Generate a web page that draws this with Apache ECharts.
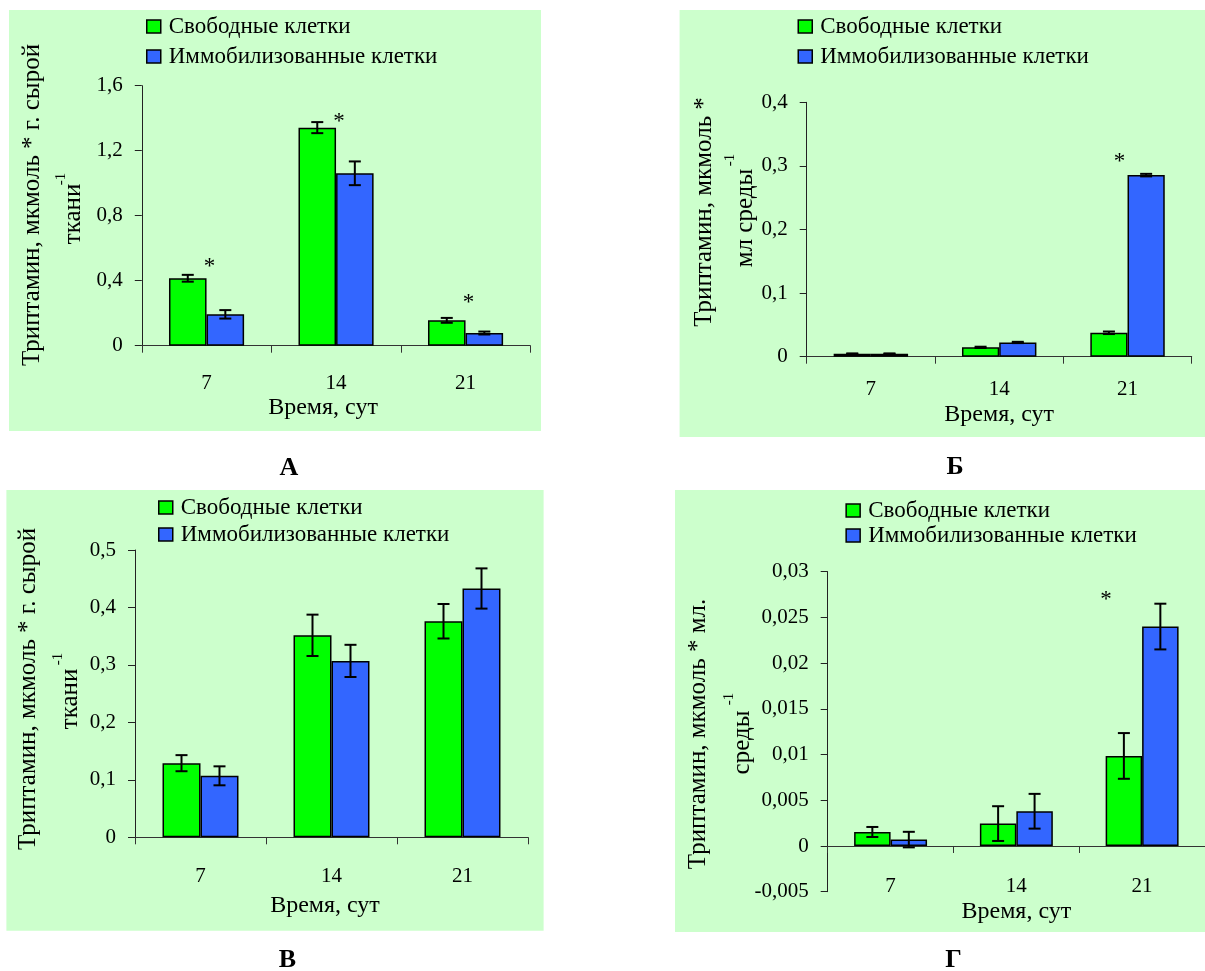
<!DOCTYPE html>
<html><head><meta charset="utf-8">
<script src="https://cdn.jsdelivr.net/npm/echarts@6/dist/echarts.min.js"></script>
<style>html,body{margin:0;padding:0;background:#fff}#c{width:1205px;height:971px}</style>
</head><body><div id="c"></div>
<script>
// ---------- data ----------
const categories = ['7', '14', '21'];
const seriesNames = ['Свободные клетки', 'Иммобилизованные клетки'];

// Panel А
const freeA = [0.415, 1.342, 0.156];
const freeErrA = [0.021, 0.034, 0.015];
const immA = [0.193, 1.061, 0.078];
const immErrA = [0.026, 0.073, 0.009];
const starA = [0.511, 1.403, 0.287];
const ticksA = ['0', '0,4', '0,8', '1,2', '1,6'];

// Panel Б
const freeB = [0.0047, 0.0147, 0.0376];
const freeErrB = [0.0005, 0.001, 0.002];
const immB = [0.0047, 0.0224, 0.2855];
const immErrB = [0.0005, 0.001, 0.002];
const starB = [null, null, 0.312];
const ticksB = ['0', '0,1', '0,2', '0,3', '0,4'];

// Panel В
const freeV = [0.129, 0.3515, 0.376];
const freeErrV = [0.014, 0.036, 0.030];
const immV = [0.107, 0.307, 0.433];
const immErrV = [0.0165, 0.028, 0.035];
const starV = [null, null, null];
const ticksV = ['0', '0,1', '0,2', '0,3', '0,4', '0,5'];

// Panel Г
const freeG = [0.00153, 0.00245, 0.00985];
const freeErrG = [0.00055, 0.0019, 0.0025];
const immG = [0.0007, 0.0038, 0.024];
const immErrG = [0.00085, 0.0019, 0.0025];
const starG = [null, null, 0.0273];
const ticksG = ['-0,005', '0', '0,005', '0,01', '0,015', '0,02', '0,025', '0,03'];

const xName = 'Время, сут';
const yLine1 = ['Триптамин, мкмоль * г. сырой', 'Триптамин, мкмоль *', 'Триптамин, мкмоль * г. сырой', 'Триптамин, мкмоль * мл.'];
const yLine2 = ['ткани', 'мл среды', 'ткани', 'среды'];
const panelTitles = ['А', 'Б', 'В', 'Г'];

// ---------- styling / layout ----------
const FONT = '"Liberation Serif", "Times New Roman", serif';
const GREEN = '#00FF00', BLUE = '#3366FF', BG = '#CCFFCC';
const GAP = 0.42;

const panels = [
  { free: freeA, freeErr: freeErrA, imm: immA, immErr: immErrA, star: starA, ticks: ticksA,
    min: 0, max: 1.6, interval: 0.4,
    grid: { left: 141.8, top: 85.7, width: 388.5, height: 260 },
    legend: { left: 146, top: 15, gap: 7 }, labelMargin: 27, nameGap: 50, namePad: [0, 26, 0, 0], starDx: 3,
    bg: [9, 10, 532, 421],
    y1: [32, 205], y2: [73, 214], sup: [61, 179], title: [289, 468] },
  { free: freeB, freeErr: freeErrB, imm: immB, immErr: immErrB, star: starB, ticks: ticksB,
    min: 0, max: 0.4, interval: 0.1,
    grid: { left: 806.7, top: 102.3, width: 385, height: 254.4 },
    legend: { left: 797.5, top: 15, gap: 7 }, labelMargin: 22, nameGap: 46, namePad: [0, 0, 0, 0], starDx: -8,
    bg: [679.6, 10, 530, 427],
    y1: [704, 212], y2: [745, 218], sup: [730, 160], title: [955, 467] },
  { free: freeV, freeErr: freeErrV, imm: immV, immErr: immErrV, star: starV, ticks: ticksV,
    min: 0, max: 0.5, interval: 0.1,
    grid: { left: 135, top: 550, width: 393, height: 287.3 },
    legend: { left: 158, top: 496, gap: 4 }, labelMargin: 29, nameGap: 56, namePad: [0, 13, 0, 0], starDx: 0,
    bg: [6.4, 490, 537.2, 440.7],
    y1: [28.6, 689], y2: [70.5, 699], sup: [58, 659], title: [287.5, 960] },
  { free: freeG, freeErr: freeErrG, imm: immG, immErr: immErrG, star: starG, ticks: ticksG,
    min: -0.005, max: 0.03, interval: 0.005,
    grid: { left: 827.7, top: 571.7, width: 382, height: 320 },
    legend: { left: 845.4, top: 499, gap: 2 }, labelMargin: -16, nameGap: 8, namePad: [0, 0, 0, 0], starDx: -36,
    bg: [675, 490, 540, 442],
    y1: [698, 734], y2: [742, 742.5], sup: [729.5, 699], title: [953.5, 960] }
];

function errRender(sign) {
  return function (params, api) {
    const x = api.value(0);
    const pLo = api.coord([x, api.value(1)]);
    const pHi = api.coord([x, api.value(2)]);
    const band = api.size([1, 0])[0];
    const bw = band * (1 - GAP) / 2;
    const cx = pLo[0] + sign * bw / 2;
    const h = 6;
    const st = { stroke: '#000', lineWidth: 2 };
    return { type: 'group', children: [
      { type: 'line', shape: { x1: cx, y1: pLo[1], x2: cx, y2: pHi[1] }, style: st },
      { type: 'line', shape: { x1: cx - h, y1: pLo[1], x2: cx + h, y2: pLo[1] }, style: st },
      { type: 'line', shape: { x1: cx - h, y1: pHi[1], x2: cx + h, y2: pHi[1] }, style: st }
    ] };
  };
}
function starRender(dx) {
  return function (params, api) {
    const p = api.coord([api.value(0), api.value(1)]);
    return { type: 'text', x: p[0] + dx, y: p[1] + 4, style: { text: '*', font: '23px ' + FONT, fill: '#000', textAlign: 'center', textVerticalAlign: 'middle' } };
  };
}

const option = { animation: false, grid: [], xAxis: [], yAxis: [], series: [], legend: [], graphic: { elements: [] } };

panels.forEach((p, i) => {
  option.grid.push(Object.assign({ containLabel: false }, p.grid));
  option.xAxis.push({
    type: 'category', gridIndex: i, data: categories,
    axisLine: { onZero: true, lineStyle: { color: '#333', width: 1 } },
    axisTick: { show: true, length: 7, inside: false, lineStyle: { color: '#333' } },
    axisLabel: { color: '#000', fontFamily: FONT, fontSize: 21, margin: p.labelMargin },
    name: xName, nameLocation: 'middle', nameGap: p.nameGap,
    nameTextStyle: { color: '#000', fontFamily: FONT, fontSize: 24, padding: p.namePad, verticalAlign: 'top' }
  });
  option.yAxis.push({
    type: 'value', gridIndex: i, min: p.min, max: p.max, interval: p.interval,
    splitLine: { show: false },
    axisLine: { show: true, onZero: false, lineStyle: { color: '#222', width: 1 } },
    axisTick: { show: true, length: 7, lineStyle: { color: '#222' } },
    axisLabel: { color: '#000', fontFamily: FONT, fontSize: 21, margin: 19,
      formatter: (v) => p.ticks[Math.round((v - p.min) / p.interval)] }
  });
  const barStyle = (c) => ({ color: c, borderColor: '#000', borderWidth: 1.5 });
  option.series.push({
    type: 'bar', name: seriesNames[0], xAxisIndex: i, yAxisIndex: i, data: p.free,
    barGap: '0%', barCategoryGap: (GAP * 100) + '%', itemStyle: barStyle(GREEN)
  });
  option.series.push({
    type: 'bar', name: seriesNames[1], xAxisIndex: i, yAxisIndex: i, data: p.imm,
    barGap: '0%', barCategoryGap: (GAP * 100) + '%', itemStyle: barStyle(BLUE)
  });
  option.series.push({
    type: 'custom', xAxisIndex: i, yAxisIndex: i, z: 5, renderItem: errRender(-1),
    encode: { x: 0, y: [1, 2] },
    data: p.free.map((v, k) => [k, v - p.freeErr[k], v + p.freeErr[k]])
  });
  option.series.push({
    type: 'custom', xAxisIndex: i, yAxisIndex: i, z: 5, renderItem: errRender(1),
    encode: { x: 0, y: [1, 2] },
    data: p.imm.map((v, k) => [k, v - p.immErr[k], v + p.immErr[k]])
  });
  const stars = [];
  p.star.forEach((v, k) => { if (v !== null) stars.push([k, v]); });
  if (stars.length) option.series.push({
    type: 'custom', xAxisIndex: i, yAxisIndex: i, z: 6, renderItem: starRender(p.starDx),
    encode: { x: 0, y: 1 }, data: stars
  });
  option.legend.push({
    orient: 'vertical', left: p.legend.left, top: p.legend.top, padding: 0,
    itemGap: p.legend.gap, itemWidth: 14, itemHeight: 13, icon: 'rect',
    itemStyle: { borderColor: '#000', borderWidth: 1.5 },
    textStyle: { color: '#000', fontFamily: FONT, fontSize: 23, lineHeight: 23, padding: [0, 0, 0, 3] },
    data: seriesNames, selectedMode: false
  });
  const g = option.graphic.elements;
  g.push({ type: 'rect', z: -100, shape: { x: p.bg[0], y: p.bg[1], width: p.bg[2], height: p.bg[3] }, style: { fill: BG } });
  g.push({ type: 'text', x: p.y1[0], y: p.y1[1], rotation: Math.PI / 2,
    style: { text: yLine1[i], font: '25px ' + FONT, fill: '#000', textAlign: 'center', textVerticalAlign: 'middle' } });
  g.push({ type: 'text', x: p.y2[0], y: p.y2[1], rotation: Math.PI / 2,
    style: { text: yLine2[i], font: '25px ' + FONT, fill: '#000', textAlign: 'center', textVerticalAlign: 'middle' } });
  g.push({ type: 'text', x: p.sup[0], y: p.sup[1], rotation: Math.PI / 2,
    style: { text: '-1', font: '15px ' + FONT, fill: '#000', textAlign: 'center', textVerticalAlign: 'middle' } });
  g.push({ type: 'text', x: p.title[0], y: p.title[1],
    style: { text: panelTitles[i], font: 'bold 26px ' + FONT, fill: '#000', textAlign: 'center', textVerticalAlign: 'middle' } });
});

const chart = echarts.init(document.getElementById('c'), null, { renderer: 'canvas' });
chart.setOption(option);
</script>
</body></html>
